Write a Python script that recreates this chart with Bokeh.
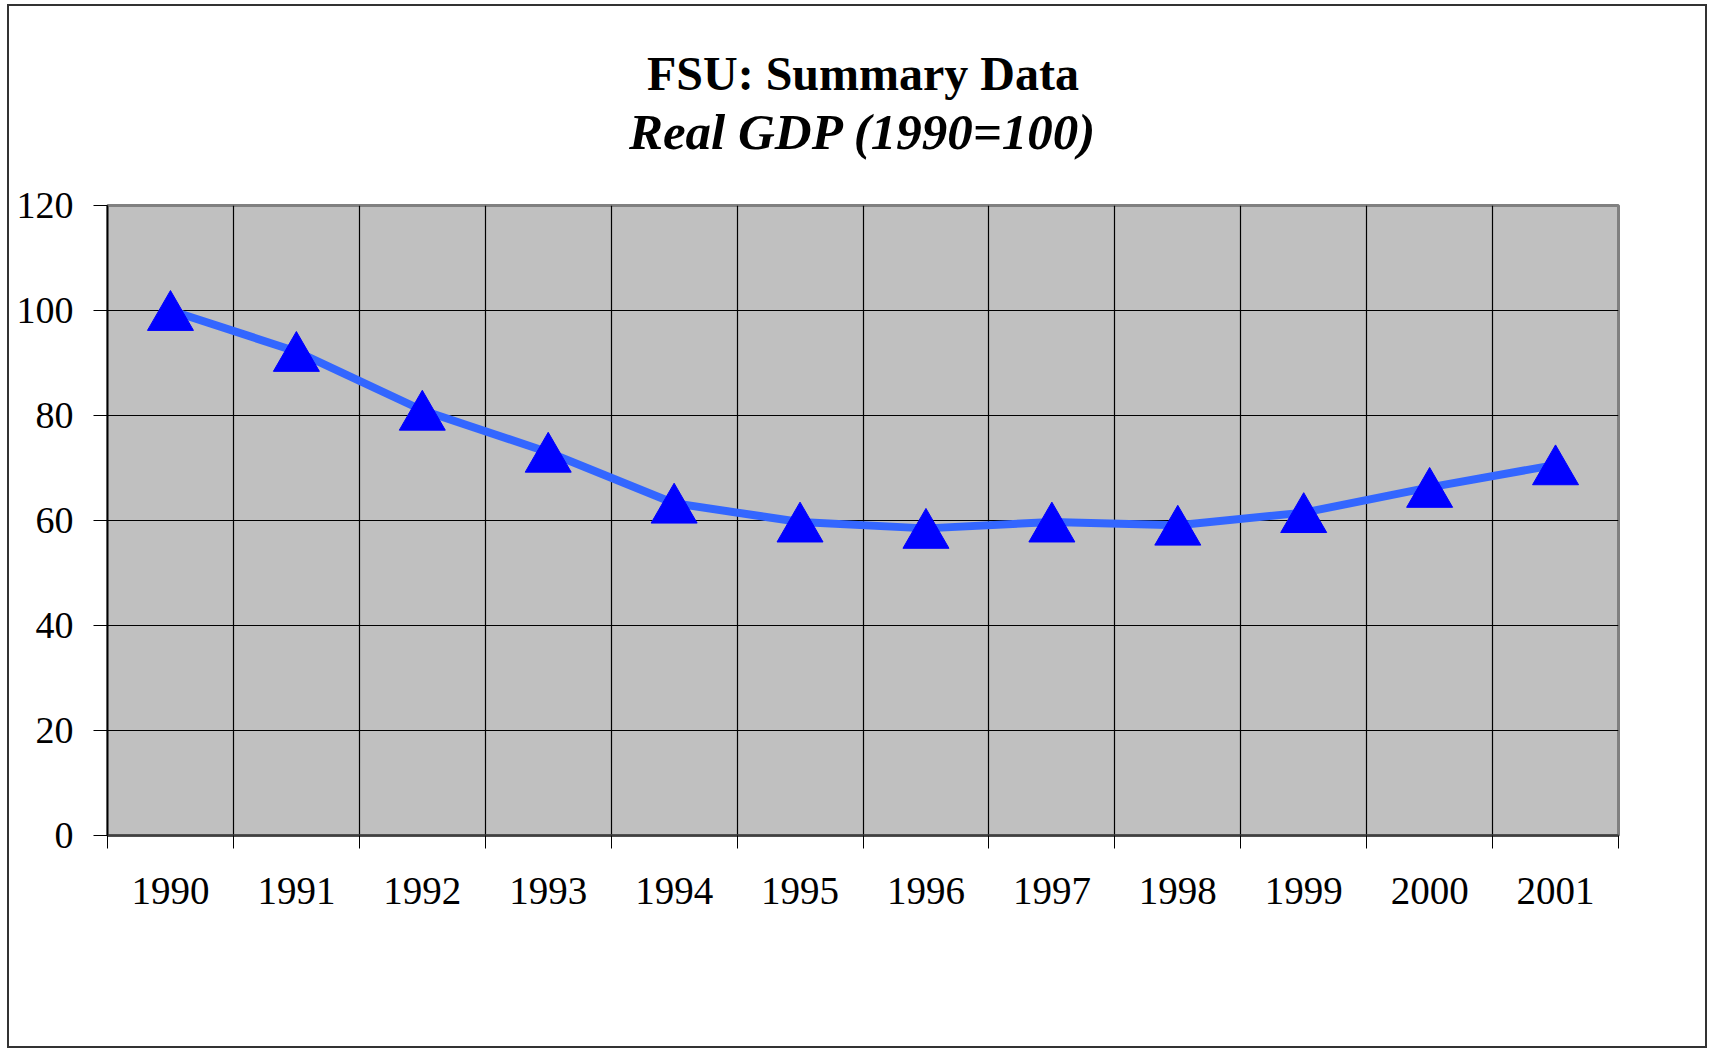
from bokeh.plotting import figure
from bokeh.models import Range1d, FixedTicker, Title, ColumnDataSource
from bokeh.transform import dodge
from bokeh.embed import file_html
from bokeh.resources import INLINE

years = ["1990", "1991", "1992", "1993", "1994", "1995", "1996", "1997", "1998", "1999", "2000", "2001"]
gdp = [100, 92.2, 81.0, 73.0, 63.3, 59.7, 58.5, 59.7, 59.1, 61.5, 66.3, 70.6]
y_ticks = [0, 20, 40, 60, 80, 100, 120]
title_text = "FSU: Summary Data"
subtitle_text = "Real GDP (1990=100)"

xs = [i + 0.5 for i in range(len(years))]
bounds = list(range(len(years) + 1))
src = ColumnDataSource(dict(x=xs, y=gdp))

FONT = "Liberation Serif"

p = figure(width=1700, height=1044, output_backend="svg", toolbar_location=None,
           x_range=Range1d(0, len(years)), y_range=Range1d(0, 120),
           min_border_left=98, min_border_right=91, min_border_top=199, min_border_bottom=215)
p.styles = {"border": "2px solid #333", "margin-left": "7px", "margin-top": "4px"}

p.title.text = title_text
p.title.text_font = FONT
p.title.text_font_style = "bold"
p.title.text_font_size = "48px"
p.title.text_color = "black"
p.title.align = "center"
p.title.standoff = -89
p.add_layout(Title(text=subtitle_text, text_font=FONT, text_font_style="bold italic",
                   text_font_size="51px", text_color="black", align="center", standoff=92), "above")

p.background_fill_color = "#C0C0C0"
p.border_fill_color = "white"
p.outline_line_color = "#808080"
p.outline_line_width = 3

# x axis: labels centered, ticks at category boundaries
p.xaxis.ticker = FixedTicker(ticks=xs, minor_ticks=bounds)
p.xaxis.major_label_overrides = {x: y for x, y in zip(xs, years)}
p.xaxis.major_tick_out = 0
p.xaxis.major_tick_in = 0
p.xaxis.minor_tick_out = 13
p.xaxis.minor_tick_in = 0
p.xaxis.minor_tick_line_color = "black"
p.xaxis.axis_line_color = "#404040"
p.xaxis.axis_line_width = 2.5
p.xaxis.major_label_text_font = FONT
p.xaxis.major_label_text_font_size = "39px"
p.xaxis.major_label_text_color = "black"
p.xaxis.major_label_standoff = 29

p.yaxis.ticker = FixedTicker(ticks=y_ticks)
p.yaxis.major_tick_out = 14
p.yaxis.major_tick_in = 0
p.yaxis.minor_tick_line_color = None
p.yaxis.major_tick_line_color = "black"
p.yaxis.axis_line_color = "black"
p.yaxis.axis_line_width = 1.5
p.yaxis.major_label_text_font = FONT
p.yaxis.major_label_text_font_size = "38px"
p.yaxis.major_label_text_color = "black"
p.yaxis.major_label_standoff = 20

p.xgrid.ticker = FixedTicker(ticks=bounds)
p.xgrid.grid_line_color = "black"
p.xgrid.grid_line_width = 1.2
p.ygrid.ticker = FixedTicker(ticks=y_ticks)
p.ygrid.grid_line_color = "black"
p.ygrid.grid_line_width = 1.2

p.line("x", "y", source=src, line_width=8, line_color="#3366FF")
# shift triangle so that its box (not centroid) is centred on the value
p.scatter("x", dodge("y", -1.26, range=p.y_range), source=src, marker="triangle", size=46,
          fill_color="#0000FF", line_color="#0000FF")

open("out.html", "w").write(file_html(p, INLINE))
